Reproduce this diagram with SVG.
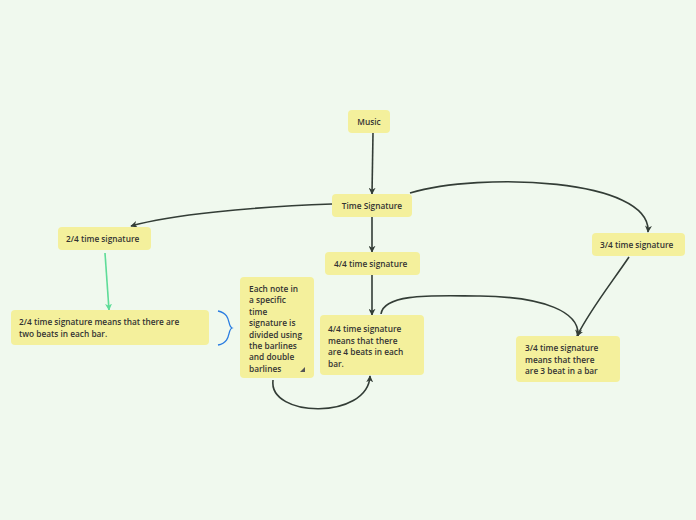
<svg xmlns="http://www.w3.org/2000/svg" width="696" height="520" viewBox="0 0 696 520">
<style>
.n{fill:#f4f09c;}
.t{font-family:"Open Sans","Noto Sans",sans-serif;font-weight:600;font-size:8.3px;fill:#333;}
.c{fill:none;stroke:#333d36;stroke-width:1.6;}
</style>
<defs>
<marker id="a" viewBox="0 0 10 10" refX="9" refY="5" markerWidth="7" markerHeight="7" markerUnits="userSpaceOnUse" orient="auto">
<path d="M0,0 L10,5 L0,10 L3,5 z" fill="#333d36"/>
</marker>
<marker id="g" viewBox="0 0 10 10" refX="9" refY="5" markerWidth="7" markerHeight="7" markerUnits="userSpaceOnUse" orient="auto">
<path d="M0,0 L10,5 L0,10 L3,5 z" fill="#5edc98"/>
</marker>
</defs>
<rect width="696" height="520" fill="#f0f9ee"/>
<g id="connectors">
<path class="c" d="M373,133 L372,194" marker-end="url(#a)"/>
<path class="c" d="M332,204 C 250,207 170,215 131,226" marker-end="url(#a)"/>
<path class="c" d="M410,193 C 480,172 652,178 648,232" marker-end="url(#a)"/>
<path class="c" d="M372,217 L372,252" marker-end="url(#a)"/>
<path class="c" d="M372,275 L372,315" marker-end="url(#a)"/>
<path d="M105,253 L109,310" fill="none" stroke="#5edc98" stroke-width="1.6" marker-end="url(#g)"/>
<path class="c" d="M273,380 C 268,418 368,420 370,376" marker-end="url(#a)"/>
<path class="c" d="M381,314 C 384,292 440,296 480,296 C 545,297 580,312 578,336" marker-end="url(#a)"/>
<path class="c" d="M629,257 C 610,285 590,310 577,336" marker-end="url(#a)"/>
<path d="M218,311 C 232,314 227,326 232,328 C 227,330 232,342 218,345" fill="none" stroke="#2a7de1" stroke-width="1.3"/>
</g>
<g id="music"><rect class="n" x="348" y="110" width="42" height="23" rx="4"/><text class="t" x="369" y="125" text-anchor="middle">Music</text></g>
<g id="timesig"><rect class="n" x="332" y="194" width="80" height="23" rx="4"/><text class="t" x="372" y="209" text-anchor="middle">Time Signature</text></g>
<g id="two4"><rect class="n" x="58" y="227" width="93" height="23" rx="4"/><text class="t" x="66" y="242">2/4 time signature</text></g>
<g id="four4"><rect class="n" x="325" y="252" width="95" height="23" rx="4"/><text class="t" x="334" y="267">4/4 time signature</text></g>
<g id="three4"><rect class="n" x="592" y="233" width="93" height="23" rx="4"/><text class="t" x="600" y="248">3/4 time signature</text></g>
<g id="two4desc"><rect class="n" x="11" y="310" width="198" height="35" rx="4"/><text class="t" x="19" y="325">2/4 time signature means that there are</text><text class="t" x="19" y="337">two beats in each bar.</text></g>
<g id="eachnote"><rect class="n" x="240" y="277" width="74" height="101" rx="4"/>
<text class="t" x="249" y="292">Each note in</text>
<text class="t" x="249" y="303.4">a specific</text>
<text class="t" x="249" y="314.8">time</text>
<text class="t" x="249" y="326.2">signature is</text>
<text class="t" x="249" y="337.6">divided using</text>
<text class="t" x="249" y="349">the barlines</text>
<text class="t" x="249" y="360.4">and double</text>
<text class="t" x="249" y="371.8">barlines</text>
<path d="M305,367 L305,372 L300,372 z" fill="#555"/>
</g>
<g id="four4desc"><rect class="n" x="320" y="315" width="104" height="60" rx="4"/>
<text class="t" x="328" y="332">4/4 time signature</text>
<text class="t" x="328" y="343.5">means that there</text>
<text class="t" x="328" y="355">are 4 beats in each</text>
<text class="t" x="328" y="366.5">bar.</text></g>
<g id="three4desc"><rect class="n" x="516" y="336" width="104" height="46" rx="4"/>
<text class="t" x="525" y="351">3/4 time signature</text>
<text class="t" x="525" y="362.5">means that there</text>
<text class="t" x="525" y="374">are 3 beat in a bar</text></g>
</svg>
